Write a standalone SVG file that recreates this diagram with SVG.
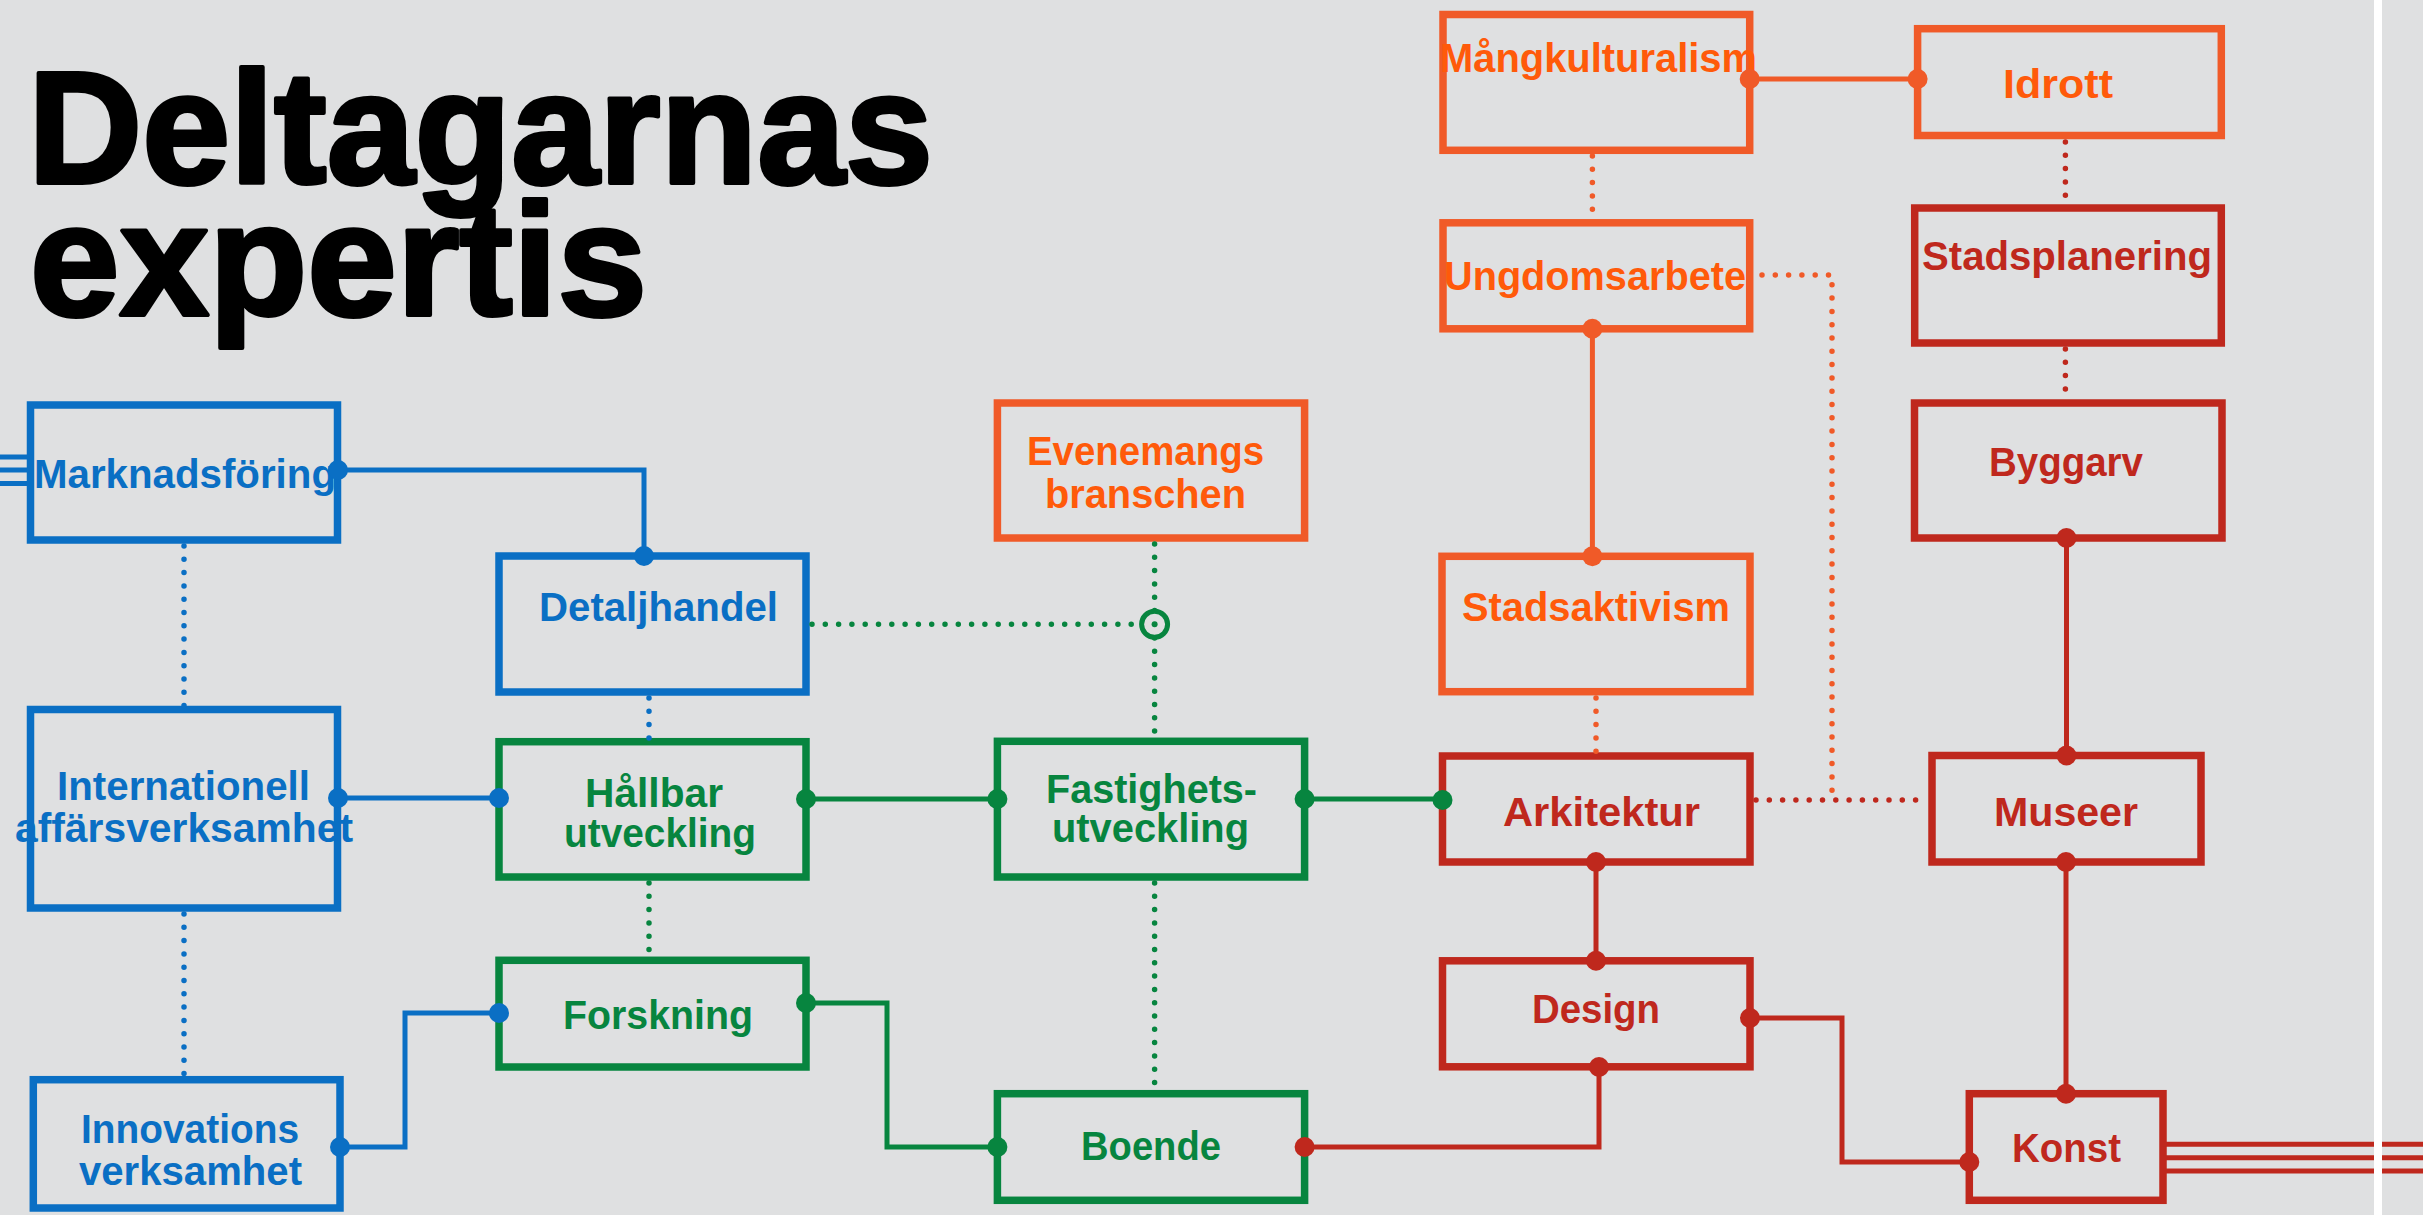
<svg xmlns="http://www.w3.org/2000/svg" width="2423" height="1215" viewBox="0 0 2423 1215">
<defs>
<style>
.bg{fill:#dfe0e1}
.title{font-family:"Liberation Sans",Arial,sans-serif;font-weight:bold;font-size:160px;fill:#000;stroke:#000;stroke-width:4;stroke-linejoin:round}
.box{fill:none;stroke-width:7.5}
.lbl{font-family:"Liberation Sans",Arial,sans-serif;font-weight:bold;font-size:41px}
.b .box{stroke:#0a6fc4}.b .lbl{fill:#0a6fc4}
.g .box{stroke:#07853f}.g .lbl{fill:#07853f}
.o .box{stroke:#f05a28}.o .lbl{fill:#ff5a0a}
.r .box{stroke:#bf281d}.r .lbl{fill:#bf281d}
.ln{fill:none;stroke-width:5}
.dt{fill:none;stroke-width:5.5;stroke-linecap:round;stroke-dasharray:0 13.3}
.cb{stroke:#0a6fc4}.cg{stroke:#07853f}.co{stroke:#f05a28}.cr{stroke:#bf281d}
.fb{fill:#0a6fc4}.fg{fill:#07853f}.fo{fill:#f05a28}.fr{fill:#bf281d}
</style>
</defs>
<rect class="bg" x="0" y="0" width="2423" height="1215"/>
<g id="title">
<text class="title" x="28" y="183" textLength="905" lengthAdjust="spacingAndGlyphs">Deltagarnas</text>
<text class="title" x="30" y="315" textLength="617" lengthAdjust="spacingAndGlyphs">expertis</text>
</g>
<g id="nodes">
<g id="marknadsforing" class="b"><rect class="box" x="30.5" y="405" width="307" height="135"/><text class="lbl" x="34" y="488" textLength="302" lengthAdjust="spacingAndGlyphs">Marknadsföring</text></g>
<g id="internationell" class="b"><rect class="box" x="30.5" y="709.5" width="307" height="198.5"/><text class="lbl" x="57" y="800" textLength="253" lengthAdjust="spacingAndGlyphs">Internationell</text><text class="lbl" x="15" y="842" textLength="338" lengthAdjust="spacingAndGlyphs">affärsverksamhet</text></g>
<g id="innovations" class="b"><rect class="box" x="33.3" y="1079.7" width="306.7" height="128.3"/><text class="lbl" x="81" y="1143" textLength="218" lengthAdjust="spacingAndGlyphs">Innovations</text><text class="lbl" x="79" y="1185" textLength="223" lengthAdjust="spacingAndGlyphs">verksamhet</text></g>
<g id="detaljhandel" class="b"><rect class="box" x="499" y="556" width="307" height="136"/><text class="lbl" x="539" y="621" textLength="239" lengthAdjust="spacingAndGlyphs">Detaljhandel</text></g>
<g id="hallbar" class="g"><rect class="box" x="499" y="741.7" width="307" height="135.3"/><text class="lbl" x="585" y="806.5" textLength="138" lengthAdjust="spacingAndGlyphs">Hållbar</text><text class="lbl" x="564" y="847" textLength="192" lengthAdjust="spacingAndGlyphs">utveckling</text></g>
<g id="forskning" class="g"><rect class="box" x="499" y="960.3" width="307" height="106.7"/><text class="lbl" x="563" y="1029" textLength="190" lengthAdjust="spacingAndGlyphs">Forskning</text></g>
<g id="fastighets" class="g"><rect class="box" x="997.4" y="741.3" width="307.2" height="135.7"/><text class="lbl" x="1046" y="803" textLength="211" lengthAdjust="spacingAndGlyphs">Fastighets-</text><text class="lbl" x="1052" y="842" textLength="197" lengthAdjust="spacingAndGlyphs">utveckling</text></g>
<g id="boende" class="g"><rect class="box" x="997.4" y="1093.7" width="307.2" height="106.6"/><text class="lbl" x="1081" y="1160" textLength="140" lengthAdjust="spacingAndGlyphs">Boende</text></g>
<g id="evenemangs" class="o"><rect class="box" x="997.4" y="403" width="307.2" height="135"/><text class="lbl" x="1027" y="465" textLength="237" lengthAdjust="spacingAndGlyphs">Evenemangs</text><text class="lbl" x="1045" y="508" textLength="201" lengthAdjust="spacingAndGlyphs">branschen</text></g>
<g id="stadsaktivism" class="o"><rect class="box" x="1442" y="556.3" width="308" height="135.4"/><text class="lbl" x="1462" y="621" textLength="268" lengthAdjust="spacingAndGlyphs">Stadsaktivism</text></g>
<g id="ungdomsarbete" class="o"><rect class="box" x="1443" y="222.8" width="306.7" height="106"/><text class="lbl" x="1444" y="290" textLength="302" lengthAdjust="spacingAndGlyphs">Ungdomsarbete</text></g>
<g id="mangkulturalism" class="o"><rect class="box" x="1443" y="14.5" width="306.7" height="135.8"/><text class="lbl" x="1440" y="72" textLength="317" lengthAdjust="spacingAndGlyphs">Mångkulturalism</text></g>
<g id="idrott" class="o"><rect class="box" x="1917.6" y="28.7" width="303.7" height="106.8"/><text class="lbl" x="2003" y="98" textLength="110" lengthAdjust="spacingAndGlyphs">Idrott</text></g>
<g id="stadsplanering" class="r"><rect class="box" x="1914.7" y="208" width="306.6" height="135"/><text class="lbl" x="1922" y="270" textLength="290" lengthAdjust="spacingAndGlyphs">Stadsplanering</text></g>
<g id="byggarv" class="r"><rect class="box" x="1914.5" y="403" width="307.5" height="135"/><text class="lbl" x="1989" y="476" textLength="154" lengthAdjust="spacingAndGlyphs">Byggarv</text></g>
<g id="arkitektur" class="r"><rect class="box" x="1442.5" y="756" width="307.5" height="106"/><text class="lbl" x="1503" y="826" textLength="197" lengthAdjust="spacingAndGlyphs">Arkitektur</text></g>
<g id="museer" class="r"><rect class="box" x="1932" y="755.5" width="269" height="106.5"/><text class="lbl" x="1994" y="826" textLength="144" lengthAdjust="spacingAndGlyphs">Museer</text></g>
<g id="design" class="r"><rect class="box" x="1442.5" y="960.8" width="307.5" height="106"/><text class="lbl" x="1532" y="1023" textLength="128" lengthAdjust="spacingAndGlyphs">Design</text></g>
<g id="konst" class="r"><rect class="box" x="1969.3" y="1093.7" width="193.7" height="106.6"/><text class="lbl" x="2012" y="1162" textLength="109" lengthAdjust="spacingAndGlyphs">Konst</text></g>
</g>
<g id="connectors">
<!-- external triple lines -->
<path class="ln cb" stroke-width="4.5" d="M0,457H30M0,470H30M0,483.5H30"/>
<path class="ln cr" stroke-width="4.5" d="M2163,1144.3H2423M2163,1157.7H2423M2163,1171H2423"/>
<!-- dotted -->
<path class="dt cb" d="M184,546V706M184,914V1076M649,698V738"/>
<path class="dt cg" d="M812,624.3H1140M1154.6,544V611M1154.6,638V738M649,883V957M1154.6,883V1090"/>
<path class="dt co" d="M1592.4,156V219M1596,698V752M1762,275H1832V800"/>
<path class="dt cr" d="M1756,800H1928M2065.4,142V204M2065.4,349V399"/>
<circle cx="1154.6" cy="624.3" r="13" fill="none" stroke="#07853f" stroke-width="5"/>
<circle cx="1154.6" cy="624.3" r="3" class="fg"/>
<!-- solid -->
<path class="ln cb" d="M338,470H644V556M338,798H499M340,1147H405V1013H499"/>
<path class="ln cg" d="M806,799H997M1304.6,799H1442.5M806,1003H887V1147H997"/>
<path class="ln cr" d="M1304.6,1147H1599V1067M1596,862V960.8M1750,1018H1842V1162H1969M2066.5,538V755.5M2066,862V1093.7"/>
<path class="ln co" d="M1749.7,79H1917.6M1592.4,328.8V556.3"/>
<g class="fb"><circle cx="338" cy="470" r="10"/><circle cx="644" cy="556" r="10"/><circle cx="338" cy="798" r="10"/><circle cx="499" cy="798" r="10"/><circle cx="340" cy="1147" r="10"/><circle cx="499" cy="1013" r="10"/></g>
<g class="fg"><circle cx="806" cy="799" r="10"/><circle cx="997.4" cy="799" r="10"/><circle cx="1304.6" cy="799" r="10"/><circle cx="1442.5" cy="800" r="10"/><circle cx="806" cy="1003" r="10"/><circle cx="997.4" cy="1147" r="10"/></g>
<g class="fr"><circle cx="1304.6" cy="1147" r="10"/><circle cx="1599" cy="1067" r="10"/><circle cx="1596" cy="862" r="10"/><circle cx="1596" cy="960.8" r="10"/><circle cx="1750" cy="1018" r="10"/><circle cx="1969.3" cy="1162" r="10"/><circle cx="2066.5" cy="538" r="10"/><circle cx="2066.5" cy="755.5" r="10"/><circle cx="2066" cy="862" r="10"/><circle cx="2066" cy="1093.7" r="10"/></g>
<g class="fo"><circle cx="1749.7" cy="79" r="10"/><circle cx="1917.6" cy="79" r="10"/><circle cx="1592.4" cy="328.8" r="10"/><circle cx="1592.4" cy="556.3" r="10"/></g>
</g>
<rect x="2374" y="0" width="8" height="1215" fill="#ffffff"/>
</svg>
